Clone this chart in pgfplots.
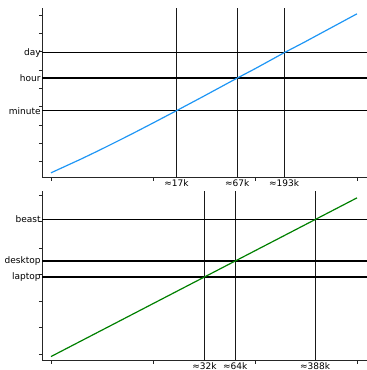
\documentclass[border=0pt]{standalone}
\usepackage{fontspec}
\setmainfont{DejaVu Sans}
\usepackage{pgfplots}
\pgfplotsset{compat=1.18}
\definecolor{lineblue}{RGB}{30,150,245}
\definecolor{linegreen}{RGB}{0,128,0}
\begin{document}
\begin{tikzpicture}[x=1pt,y=1pt]
\path[use as bounding box] (0,0) rectangle (367,-370);
\begin{axis}[xmode=log, ymode=log, scale only axis, width=324.7pt, height=169pt,
  xmin=822, xmax=1.254e6,
  axis x line=bottom, axis y line=left,
  axis line style={-, line width=0.8pt, black!85},
  xtick={1e3,1e4,1e5,1e6}, xticklabels={,,,},
  xminorticks=false, yminorticks=false,
  tick align=outside, major tick length=3.5pt,
  tick style={line width=0.8pt, black!85},
  font=\fontsize{9}{10.5}\selectfont,
  yticklabel style={inner sep=1.5pt},
  xticklabel style={inner sep=2pt},
  extra x tick style={major tick length=0pt, grid=major,
    major grid style={black!90, line width=0.9pt}},
  extra y tick style={major tick length=0pt, grid=major,
    major grid style={black, line width=1.2pt, dash pattern=on 1.4pt off 0.6pt}},
  at={(42.3pt,-8pt)}, anchor=north west,
  ymin=0.01452, ymax=2.38e7,
  ytick={1e-1,1e0,1e1,1e2,1e3,1e4,1e5,1e6,1e7}, yticklabels={,,,,,,,,},
  extra y ticks={60,3600,86400}, extra y tick labels={minute,hour,day},
  extra x ticks={17000,67000,193000}, extra x tick labels={≈17k,≈67k,≈193k}]
\addplot[lineblue, line width=1.2pt, no marks] coordinates {
(1000,0.0245) (2000,0.1436) (3000,0.426) (5000,1.756) (7000,4.56)
(10000,12.75) (17000,60) (30000,321) (67000,3600) (100000,11580)
(193000,86400) (300000,310300) (500000,1434500) (1000000,11463000)};
\end{axis}
\begin{axis}[xmode=log, ymode=log, scale only axis, width=324.7pt, height=169pt,
  xmin=822, xmax=1.254e6,
  axis x line=bottom, axis y line=left,
  axis line style={-, line width=0.8pt, black!85},
  xtick={1e3,1e4,1e5,1e6}, xticklabels={,,,},
  xminorticks=false, yminorticks=false,
  tick align=outside, major tick length=3.5pt,
  tick style={line width=0.8pt, black!85},
  font=\fontsize{9}{10.5}\selectfont,
  yticklabel style={inner sep=1.5pt},
  xticklabel style={inner sep=2pt},
  extra x tick style={major tick length=0pt, grid=major,
    major grid style={black!90, line width=0.9pt}},
  extra y tick style={major tick length=0pt, grid=major,
    major grid style={black, line width=1.2pt, dash pattern=on 1.4pt off 0.6pt}},
  at={(42.3pt,-191pt)}, anchor=north west,
  ymin=5.93e6, ymax=1.455e13,
  ytick={1e7,1e8,1e9,1e10,1e11,1e12,1e13}, yticklabels={,,,,,,},
  extra y ticks={8.192e9,3.2768e10,1.2044e12}, extra y tick labels={laptop,desktop,beast},
  extra x ticks={32000,64000,388000}, extra x tick labels={≈32k,≈64k,≈388k}]
\addplot[linegreen, line width=1.2pt, no marks] coordinates {
(1000,8e6) (10000,8e8) (32000,8.192e9) (64000,3.2768e10) (100000,8e10)
(388000,1.2044e12) (1000000,8e12)};
\end{axis}
\end{tikzpicture}
\end{document}
